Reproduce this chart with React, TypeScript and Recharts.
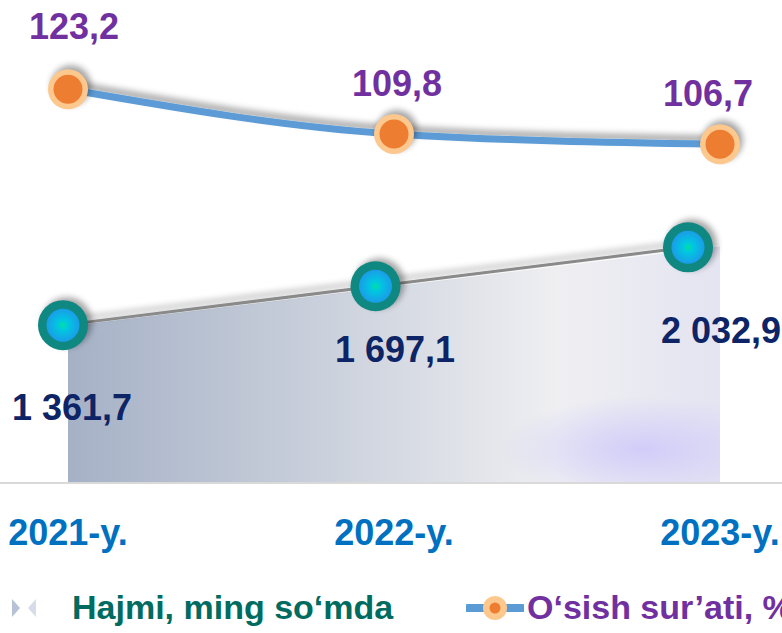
import { ComposedChart, Area, Line, XAxis, YAxis, Legend, LabelList } from 'recharts'

const YEARS = ['2021-y.', '2022-y.', '2023-y.']
const VOLUME = [1361.7, 1697.1, 2032.9]
const GROWTH = [123.2, 109.8, 106.7]

const data = YEARS.map((year, i) => ({ year, volume: VOLUME[i], growth: GROWTH[i] }))

const FONT = '"Liberation Sans", Arial, sans-serif'
const W = 782
const H = 633

// label nudges, per point (style only)
const GROWTH_SHIFT = [
  { dx: 6, dy: -50 },
  { dx: 3, dy: -38 },
  { dx: -12, dy: -38 },
]
const VOLUME_SHIFT = [
  { dx: 4, dy: 98 },
  { dx: 1, dy: 80 },
  { dx: 1, dy: 100 },
]

function fmtNum(v: number): string {
  const [int, dec] = v.toFixed(1).split('.')
  return int.replace(/\B(?=(\d{3})+(?!\d))/g, ' ') + ',' + dec
}

function GrowthDot(props: any) {
  const { cx, cy } = props
  if (cx == null || cy == null) return null
  return (
    <g>
      <circle cx={cx + 3} cy={cy - 4} r={20} fill="#000" opacity={0.35} filter="url(#blur)" />
      <circle cx={cx} cy={cy} r={20} fill="#fcc88e" />
      <circle cx={cx} cy={cy} r={14.5} fill="#ed7d31" />
    </g>
  )
}

function VolumeDot(props: any) {
  const { cx, cy } = props
  if (cx == null || cy == null) return null
  return (
    <g>
      <circle cx={cx + 4} cy={cy - 3} r={25} fill="#000" opacity={0.35} filter="url(#blur2)" />
      <circle cx={cx} cy={cy} r={25} fill="#0f8882" />
      <circle cx={cx} cy={cy} r={16.5} fill="url(#dotGrad)" />
    </g>
  )
}

function YearTick(props: any) {
  const { x, y, payload } = props
  return (
    <text x={x} y={y + 60} textAnchor="middle" fill="#0070c0" fontSize={36} fontWeight="bold" fontFamily={FONT}>
      {payload.value}
    </text>
  )
}

function LegendContent() {
  const textStyle = { position: 'absolute' as const, top: 4, fontSize: 34, fontWeight: 'bold' as const, fontFamily: FONT, lineHeight: '40px', whiteSpace: 'nowrap' as const }
  return (
    <div style={{ position: 'relative', width: W, height: 50 }}>
      <svg style={{ position: 'absolute', left: 8, top: 10 }} width={30} height={30}>
        <polygon points="4,6 12,15 4,24" fill="#b7c2d6" />
        <polygon points="28,6 20,15 28,24" fill="#d6dce8" />
      </svg>
      <span style={{ ...textStyle, left: 72, color: '#006b5f' }}>Hajmi, ming so‘mda</span>
      <svg style={{ position: 'absolute', left: 466, top: 11 }} width={58} height={28}>
        <line x1={2} y1={14} x2={56} y2={14} stroke="#5b9bd5" strokeWidth={8} strokeLinecap="round" />
        <circle cx={29} cy={14} r={12} fill="#fcc88e" />
        <circle cx={29} cy={14} r={5.5} fill="#ed7d31" />
      </svg>
      <span style={{ ...textStyle, left: 527, color: '#7030a0' }}>O‘sish sur’ati, %</span>
    </div>
  )
}

// volume line drawn in front of its area, in a slight perspective (narrower x span)
function VolumeLineOverlay() {
  return (
    <div style={{ position: 'absolute', left: 0, top: 0, pointerEvents: 'none' }}>
      <ComposedChart width={W} height={H} data={data} margin={{ top: 10, right: 0, bottom: 50, left: 0 }}>
        <defs>
          <radialGradient id="dotGrad" cx="0.5" cy="0.5" r="0.5">
            <stop offset="0%" stopColor="#00e0a0" />
            <stop offset="30%" stopColor="#00c8e0" />
            <stop offset="100%" stopColor="#1a9ce8" />
          </radialGradient>
          <filter id="blur2" x="-50%" y="-50%" width="200%" height="200%">
            <feGaussianBlur stdDeviation={3} />
          </filter>
          <filter id="volShadow" x="-10%" y="-100%" width="120%" height="300%">
            <feDropShadow dx={2} dy={-5} stdDeviation={3} floodColor="#000" floodOpacity={0.35} />
          </filter>
        </defs>
        <XAxis dataKey="year" padding={{ left: 63, right: 94 }} tick={false} axisLine={false} tickLine={false} height={100} />
        <YAxis yAxisId="v" domain={[0, 4080]} hide />
        <Line
          yAxisId="v"
          dataKey="volume"
          type="linear"
          stroke="#8a8a8a"
          strokeWidth={3}
          filter="url(#volShadow)"
          dot={<VolumeDot />}
          activeDot={false}
          isAnimationActive={false}
        />
      </ComposedChart>
    </div>
  )
}

export default function App() {
  return (
    <div style={{ position: 'absolute', left: 0, top: 0, width: W, height: H, overflow: 'hidden', background: '#fff' }}>
      <ComposedChart width={W} height={H} data={data} margin={{ top: 10, right: 0, bottom: 0, left: 0 }}>
        <defs>
          <linearGradient id="areaGrad" x1="0" y1="0" x2="1" y2="0">
            <stop offset="0%" stopColor="#a5b1c6" />
            <stop offset="45%" stopColor="#d0d5df" />
            <stop offset="75%" stopColor="#efeff2" />
            <stop offset="100%" stopColor="#e4e4f2" />
          </linearGradient>
          <radialGradient id="glowGrad" cx="0.88" cy="0.86" r="0.22">
            <stop offset="0%" stopColor="#c9c3fb" stopOpacity={0.75} />
            <stop offset="100%" stopColor="#c9c3fb" stopOpacity={0} />
          </radialGradient>
          <filter id="blur" x="-50%" y="-50%" width="200%" height="200%">
            <feGaussianBlur stdDeviation={3} />
          </filter>
          <filter id="lineShadow" x="-10%" y="-100%" width="120%" height="300%">
            <feDropShadow dx={2} dy={-5} stdDeviation={3} floodColor="#000" floodOpacity={0.35} />
          </filter>
        </defs>
        <XAxis
          dataKey="year"
          padding={{ left: 68, right: 62 }}
          tick={<YearTick />}
          tickLine={false}
          tickSize={0}
          stroke="#d9d9d9"
          strokeWidth={2}
          height={100}
          interval={0}
        />
        <YAxis yAxisId="v" domain={[0, 4000]} hide />
        <YAxis yAxisId="g" orientation="right" domain={[5, 147]} hide />
        <Legend verticalAlign="bottom" content={<LegendContent />} wrapperStyle={{ left: 0, width: W, height: 50 }} />
        <Area yAxisId="v" dataKey="volume" type="linear" stroke="none" fill="url(#areaGrad)" fillOpacity={1} isAnimationActive={false} legendType="none" />
        <Area
          yAxisId="v"
          dataKey="volume"
          type="linear"
          stroke="#ffffff"
          strokeWidth={8}
          strokeOpacity={0.85}
          fill="url(#glowGrad)"
          fillOpacity={1}
          isAnimationActive={false}
          legendType="none"
        >
          <LabelList
            dataKey="volume"
            content={(p: any) => (
              <text
                x={p.x + VOLUME_SHIFT[p.index].dx}
                y={p.y + VOLUME_SHIFT[p.index].dy}
                textAnchor="middle"
                fill="#0d2466"
                fontSize={36}
                fontWeight="bold"
                fontFamily={FONT}
              >
                {fmtNum(p.value)}
              </text>
            )}
          />
        </Area>
        <Line
          yAxisId="g"
          dataKey="growth"
          type="monotone"
          stroke="#5b9bd5"
          strokeWidth={7}
          filter="url(#lineShadow)"
          dot={<GrowthDot />}
          activeDot={false}
          isAnimationActive={false}
        >
          <LabelList
            dataKey="growth"
            content={(p: any) => (
              <text
                x={p.x + GROWTH_SHIFT[p.index].dx}
                y={p.y + GROWTH_SHIFT[p.index].dy}
                textAnchor="middle"
                fill="#7030a0"
                fontSize={36}
                fontWeight="bold"
                fontFamily={FONT}
              >
                {fmtNum(p.value)}
              </text>
            )}
          />
        </Line>
      </ComposedChart>
      <VolumeLineOverlay />
    </div>
  )
}
